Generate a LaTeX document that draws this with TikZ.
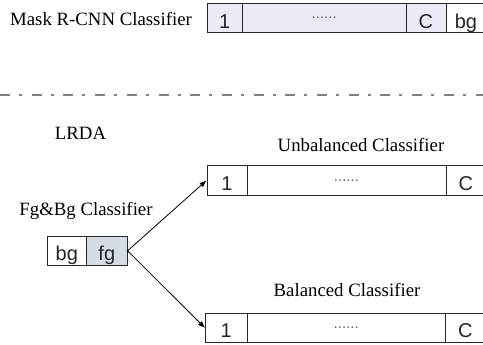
\documentclass[tikz,border=0pt]{standalone}
\usepackage{fontspec}
\setmainfont{Liberation Serif}
\newfontfamily\cellfont{Liberation Sans}
\usetikzlibrary{arrows.meta}
\definecolor{lav}{HTML}{E9EBF6}
\definecolor{fgfill}{HTML}{D6DCE5}
\definecolor{sepgray}{HTML}{808080}
\tikzset{
  cell/.style={draw=black!85, line width=0.9pt, inner sep=0pt, anchor=north west,
    font=\cellfont\fontsize{20}{22}\selectfont, text=black!85, text height=20pt, text depth=0pt},
  dotcell/.style={cell, font=\cellfont\fontsize{15}{16}\selectfont, text=black!60, text height=1.5pt, text depth=0pt},
  lbl/.style={font=\fontsize{18.8}{22}\selectfont, anchor=base, inner sep=0pt},
  arr/.style={line width=0.8pt, -{Latex[length=7pt,width=5.5pt]}},
}
\begin{document}
\begin{tikzpicture}[x=1pt,y=-1pt]
\useasboundingbox (0,0) rectangle (483,345);
\clip (0,0) rectangle (483,345);
% top classifier
\node[lbl] (tl) at (101,26) {Mask R-CNN Classifier};
\node[cell, fill=lav, minimum width=35.5pt, minimum height=29.3pt] (t1) at (206.5,3) {1};
\node[dotcell, fill=lav, minimum width=163.5pt, minimum height=29.3pt] (t2) at (242,3) {......};
\node[cell, fill=lav, minimum width=40pt, minimum height=29.3pt] (t3) at (405.5,3) {C};
\node[cell, fill=white, minimum width=40pt, minimum height=29.3pt] (t4) at (445.5,3) {bg};
% separator
\coordinate (s1) at (0,94.7);
\coordinate (s2) at (490,94.7);
\draw[sepgray, line width=2pt, dash pattern=on 10pt off 9pt on 3pt off 9.7pt] (s1) -- (s2);
% LRDA
\node[lbl] (lrda) at (80.5,140) {LRDA};
\node[lbl] (fgbg) at (86,215.5) {Fg\&Bg Classifier};
\node[cell, fill=white, minimum width=39.3pt, minimum height=29.3pt] (bg) at (46.7,235.7) {bg};
\node[cell, fill=fgfill, minimum width=40.7pt, minimum height=29.3pt] (fg) at (86,235.7) {fg};
% unbalanced
\node[lbl] (ul) at (361,152) {Unbalanced Classifier};
\node[cell, fill=white, minimum width=40pt, minimum height=30pt] (m1) at (206.5,165) {1};
\node[dotcell, fill=white, minimum width=199pt, minimum height=30pt] (m2) at (246.5,165) {......};
\node[cell, fill=white, minimum width=40pt, minimum height=30pt] (m3) at (445.5,165) {C};
% balanced
\node[lbl] (bl) at (347,297) {Balanced Classifier};
\node[cell, fill=white, minimum width=41.5pt, minimum height=29pt] (b1) at (205,313) {1};
\node[dotcell, fill=white, minimum width=198.5pt, minimum height=29pt] (b2) at (246.5,313) {......};
\node[cell, fill=white, minimum width=40pt, minimum height=29pt] (b3) at (445,313) {C};
% arrows
\draw[arr] (fg.east) -- (m1.west);
\draw[arr] (fg.east) -- (b1.west);
\end{tikzpicture}
\end{document}
